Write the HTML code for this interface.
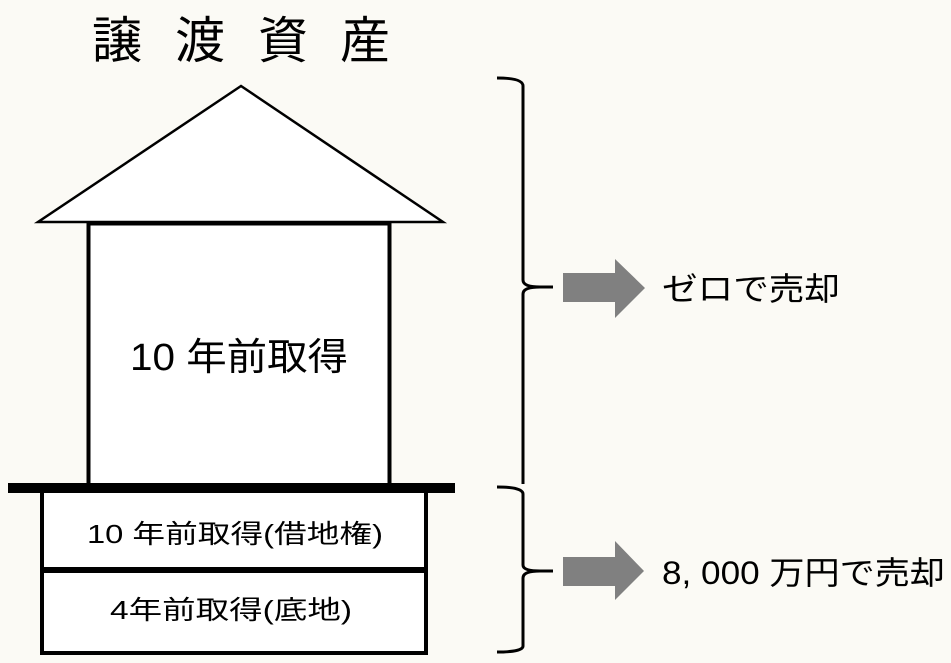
<!DOCTYPE html>
<html><head><meta charset="utf-8"><style>
html,body{margin:0;padding:0;background:#fbfaf5;}
svg{display:block;}
text{font-family:"Liberation Sans","Noto Sans CJK JP",sans-serif;fill:#000;}
</style></head><body>
<svg width="951" height="663" viewBox="0 0 951 663" xmlns="http://www.w3.org/2000/svg">
<rect width="951" height="663" fill="#fbfaf5"/>
<g font-size="50">
<text x="92" y="58">譲</text><text x="175" y="58">渡</text><text x="258" y="58">資</text><text x="340" y="58">産</text>
</g>
<polygon points="241,86 38,222 443,222" fill="#fff" stroke="#000" stroke-width="2.5" stroke-linejoin="miter"/>
<rect x="88.5" y="223.5" width="301" height="262" fill="#fff" stroke="#000" stroke-width="4"/>
<text x="130" y="370" font-size="38" textLength="218" lengthAdjust="spacingAndGlyphs">10 年前取得</text>
<rect x="42" y="490" width="384" height="163" fill="#fff" stroke="#000" stroke-width="4"/>
<rect x="8" y="483" width="447" height="10" fill="#000"/>
<rect x="42" y="567" width="384" height="6" fill="#000"/>
<text x="87" y="543" font-size="26" textLength="296" lengthAdjust="spacingAndGlyphs">10 年前取得(借地権)</text>
<text x="110" y="619" font-size="26" textLength="242" lengthAdjust="spacingAndGlyphs">4年前取得(底地)</text>
<g fill="none" stroke="#000" stroke-width="3">
<path d="M497,78 Q523,78 523,86 L523,280 Q523,287 540,287 L553,287 M540,287 Q523,287 523,294 L523,484"/>
<path d="M497,487 Q523,487 523,494 L523,565 Q523,571 540,571 L553,571 M540,571 Q523,571 523,578 L523,646 Q523,652 497,652"/>
</g>
<polygon points="563,273 615,273 615,259 645,288 615,318 615,302 563,302" fill="#808080"/>
<polygon points="563,557 615,557 615,541 644,571 615,600 615,586 563,586" fill="#808080"/>
<text x="662" y="300" font-size="32" textLength="178" lengthAdjust="spacingAndGlyphs">ゼロで売却</text>
<text x="662" y="584" font-size="32" textLength="283" lengthAdjust="spacingAndGlyphs">8, 000 万円で売却</text>
</svg>
</body></html>
